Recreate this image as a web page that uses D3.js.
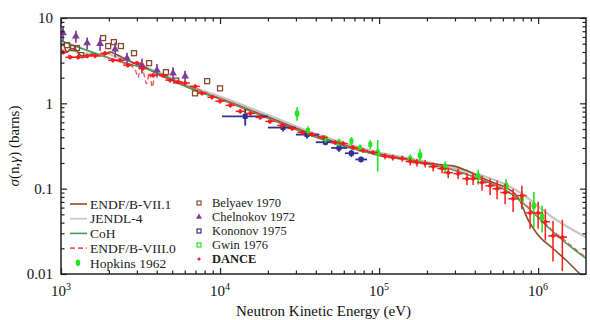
<!DOCTYPE html>
<html>
<head>
<meta charset="utf-8">
<script src="https://cdn.jsdelivr.net/npm/d3@7"></script>
<style>
body { margin: 0; background: #fff; }
svg { display: block; }
</style>
</head>
<body>
<div id="chart"></div>
<script>
// evaluations (energy in eV, cross section in barns)
const endf71E = [1000, 1030, 1090, 1170, 1250, 1320, 1400, 1460, 1570, 1680, 1760, 1900, 2030, 2150, 2250, 2400, 2530, 2840, 3200, 4000, 5000, 7000, 1e4, 2e4, 4e4, 7e4, 1e5, 1.5e5, 2e5, 2.5e5, 2.86e5, 3.5e5, 4.3e5, 5.2e5, 6.3e5, 7.1e5, 7.7e5, 8.5e5, 9.9e5, 1.24e6, 1.5e6, 1.84e6, 2e6]
const endf71S = [4.6, 4.9, 4.0, 4.4, 4.2, 3.67, 3.55, 3.47, 3.8, 3.65, 3.6, 3.75, 4.0, 3.85, 3.7, 3.5, 3.3, 3.0, 2.75, 2.25, 1.85, 1.42, 1.14, 0.69, 0.42, 0.30, 0.255, 0.222, 0.199, 0.189, 0.186, 0.165, 0.137, 0.118, 0.103, 0.088, 0.072, 0.046, 0.0293, 0.0199, 0.0145, 0.01, 0.0088]

const jendlE = [1000, 1080, 1150, 1250, 1350, 1450, 1600, 1750, 1900, 2100, 2300, 2600, 3000, 4000, 5000, 7000, 1e4, 2e4, 4e4, 7e4, 1e5, 1.5e5, 2e5, 3e5, 4e5, 5e5, 6e5, 7e5, 8e5, 1e6, 1.3e6, 1.6e6, 2e6]
const jendlS = [4.4, 4.0, 4.3, 4.0, 3.6, 3.85, 3.7, 3.75, 3.9, 3.65, 3.45, 3.2, 2.9, 2.35, 1.95, 1.5, 1.2, 0.73, 0.44, 0.315, 0.265, 0.23, 0.205, 0.172, 0.15, 0.132, 0.116, 0.1, 0.086, 0.062, 0.043, 0.034, 0.027]

const cohE = [1000, 2000, 4000, 7000, 1e4, 2e4, 4e4, 7e4, 1e5, 1.5e5, 2e5, 2.5e5, 3e5, 4e5, 5e5, 6e5, 7e5, 8e5, 1e6, 1.2e6, 1.5e6, 2e6]
const cohS = [5.4, 3.4, 2.3, 1.42, 1.12, 0.67, 0.40, 0.29, 0.245, 0.218, 0.195, 0.178, 0.163, 0.136, 0.116, 0.1, 0.083, 0.068, 0.046, 0.033, 0.023, 0.0152]

const endf80E = [1000, 1100, 1200, 1350, 1500, 1650, 1800, 2000, 2200, 2500, 2800, 2950, 3050, 3150, 3300, 3450, 3600, 3750, 3900, 4200, 4600, 5000, 6000, 7000, 1e4, 2e4, 4e4, 7e4, 1e5, 1.5e5, 2e5, 2.5e5, 3e5, 4e5, 5e5, 6e5, 7e5, 8e5, 1e6, 1.2e6, 1.5e6, 2e6]
const endf80S = [4.1, 3.7, 3.5, 3.5, 3.7, 3.6, 3.7, 3.4, 3.2, 2.95, 2.7, 2.4, 2.0, 2.6, 2.3, 1.7, 2.3, 1.55, 2.2, 2.1, 1.95, 1.85, 1.65, 1.5, 1.13, 0.67, 0.405, 0.295, 0.25, 0.222, 0.197, 0.18, 0.165, 0.138, 0.118, 0.101, 0.084, 0.069, 0.047, 0.034, 0.024, 0.0156]

// measurements: energy, cross section, relative uncertainty
const danceE = [1030, 1140, 1280, 1460, 1640, 1890, 2120, 2350, 2630, 3000, 3280, 3790, 4390, 4850, 5440, 6030, 6970, 7700, 8900, 1e4, 1.16e4, 1.34e4, 1.55e4, 1.79e4, 2.06e4, 2.45e4, 2.84e4, 3.28e4, 3.79e4, 4.45e4, 5.29e4, 5.94e4, 6.86e4, 7.93e4, 9.17e4, 1.09e5, 1.22e5, 1.40e5, 1.57e5, 1.73e5, 1.95e5, 2.19e5, 2.49e5, 2.72e5, 3.14e5, 3.57e5, 3.90e5, 4.44e5, 4.99e5, 5.52e5, 6.2e5, 6.96e5, 7.9e5, 8.9e5, 1.0e6, 1.11e6, 1.24e6, 1.42e6]
const danceS = [3.98, 3.47, 3.47, 3.6, 3.6, 3.85, 3.2, 3.2, 2.8, 2.96, 2.58, 2.13, 2.13, 1.87, 1.78, 1.73, 1.58, 1.31, 1.18, 1.06, 0.947, 0.805, 0.762, 0.684, 0.614, 0.551, 0.508, 0.456, 0.432, 0.398, 0.348, 0.338, 0.304, 0.28, 0.265, 0.24, 0.232, 0.225, 0.208, 0.202, 0.197, 0.181, 0.172, 0.154, 0.150, 0.131, 0.131, 0.118, 0.108, 0.100, 0.090, 0.076, 0.083, 0.052, 0.052, 0.041, 0.028, 0.027]
const danceErr = [0.06, 0.06, 0.06, 0.06, 0.06, 0.06, 0.06, 0.06, 0.06, 0.06, 0.06, 0.06, 0.06, 0.06, 0.06, 0.06, 0.06, 0.06, 0.06, 0.06, 0.06, 0.06, 0.06, 0.06, 0.06, 0.06, 0.06, 0.06, 0.06, 0.06, 0.06, 0.06, 0.06, 0.06, 0.06, 0.08, 0.08, 0.08, 0.1, 0.1, 0.1, 0.12, 0.12, 0.14, 0.14, 0.16, 0.16, 0.2, 0.22, 0.25, 0.27, 0.3, 0.3, 0.35, 0.35, 0.4, 0.5, 0.6]

const chelnokovE = [1030, 1240, 1460, 1760, 2190, 2600, 3230, 4010, 5060, 6030]
const chelnokovS = [6.67, 6.1, 5.1, 5.0, 4.3, 3.38, 2.8, 2.45, 2.25, 2.08]
const chelnokovErr = [0.2, 0.16, 0.16, 0.18, 0.2, 0.16, 0.2, 0.18, 0.18, 0.16]

const belyaevE = [1090, 1190, 1260, 1340, 1840, 1980, 2150, 2380, 2880, 3580, 4570, 5300, 6960, 8300, 1e4]
const belyaevS = [4.81, 4.44, 4.44, 3.67, 5.82, 4.69, 5.22, 4.69, 3.87, 2.96, 2.32, 1.85, 1.31, 1.82, 1.5]

const kononovE = [1.44e4, 2.49e4, 3.52e4, 4.6e4, 5.6e4, 6.7e4, 7.7e4]
const kononovLo = [1.03e4, 2.0e4, 3.0e4, 4.0e4, 5.0e4, 6.1e4, 7.1e4]
const kononovHi = [2.0e4, 3.0e4, 4.2e4, 5.3e4, 6.3e4, 7.4e4, 8.4e4]
const kononovS = [0.703, 0.52, 0.43, 0.35, 0.30, 0.26, 0.22]
const kononovErr = [0.22, 0.1, 0.1, 0.08, 0.1, 0.1, 0.08]

const hopkinsE = [3.05e4, 9.8e4, 1.81e5, 2.6e5, 4.2e5, 6.3e5, 9.4e5, 1.06e6]
const hopkinsS = [0.76, 0.265, 0.245, 0.18, 0.139, 0.108, 0.063, 0.047]
const hopkinsErr = [0.18, 0.4, 0.2, 0.16, 0.2, 0.2, 0.45, 0.35]

const gwinE = [3.57e4, 4.6e4, 5.6e4, 6.7e4, 7.6e4, 8.8e4, 1.57e5, 7.9e5]
const gwinS = [0.48, 0.385, 0.35, 0.36, 0.30, 0.33, 0.225, 0.076]
const gwinErr = [0.12, 0.1, 0.1, 0.12, 0.1, 0.12, 0.12, 0.25]

const xMajor = [1e3, 1e4, 1e5, 1e6]
const xLabels = ['3', '4', '5', '6']
const yMajor = [0.01, 0.1, 1, 10]
const yLabels = ['0.01', '0.1', '1', '10']

const leftLegend = ['ENDF/B-VII.1', 'JENDL-4', 'CoH', 'ENDF/B-VIII.0', 'Hopkins 1962']
const rightLegend = ['Belyaev 1970', 'Chelnokov 1972', 'Kononov 1975', 'Gwin 1976', 'DANCE']

const width = 590
const height = 320
const padding = { top: 18, right: 4, bottom: 46, left: 61 }
const serif = "'Liberation Serif', 'DejaVu Serif', 'Liberation Sans', serif"

const svg = d3.select('#chart').append('svg')
    .attr('width', width)
    .attr('height', height)
    .attr('font-family', serif)

const x = d3.scaleLog()
    .domain([1e3, 2e6])
    .range([padding.left, width - padding.right])
const y = d3.scaleLog()
    .domain([0.01, 10])
    .range([height - padding.bottom, padding.top])

const x0 = x.range()[0], x1 = x.range()[1]
const y0 = y.range()[1], y1 = y.range()[0]

svg.append('clipPath').attr('id', 'plot')
    .append('rect').attr('x', x0).attr('y', y0).attr('width', x1 - x0).attr('height', y1 - y0)

const minors = (lo, hi) => {
    const out = []
    for (let p = Math.floor(Math.log10(lo)); p <= Math.ceil(Math.log10(hi)); p++) {
        for (let k = 2; k <= 9; k++) {
            const v = k * Math.pow(10, p)
            if (v > lo && v < hi) out.push(v)
        }
    }
    return out
}
const xMinor = minors(1e3, 2e6)
const yMinor = minors(0.01, 10)

// curves
const plot = svg.append('g').attr('clip-path', 'url(#plot)')
const line = d3.line().x(d => x(d[0])).y(d => y(d[1])).curve(d3.curveMonotoneX)

const curves = [
    { e: jendlE, s: jendlS, color: '#c4c4c4', w: 2.2, dash: null },
    { e: endf71E, s: endf71S, color: '#8a4b2c', w: 1.6, dash: null },
    { e: cohE, s: cohS, color: '#3aa35a', w: 1.6, dash: null },
    { e: endf80E, s: endf80S, color: '#f25a5a', w: 1.4, dash: '5,3' }
]
curves.forEach(c => {
    plot.append('path')
        .datum(d3.zip(c.e, c.s))
        .attr('d', line)
        .attr('fill', 'none')
        .attr('stroke', c.color)
        .attr('stroke-width', c.w)
        .attr('stroke-dasharray', c.dash)
})

function errorBars (g, e, s, err, color, w, eLo, eHi) {
    const pts = d3.zip(e, s, err)
    g.selectAll(null).data(pts).enter().append('line')
        .attr('x1', d => x(d[0])).attr('x2', d => x(d[0]))
        .attr('y1', d => y(d[1] * (1 + d[2]))).attr('y2', d => y(d[1] * (1 - d[2])))
        .attr('stroke', color).attr('stroke-width', w)
    if (eLo) {
        g.selectAll(null).data(d3.zip(eLo, eHi, s)).enter().append('line')
            .attr('x1', d => x(d[0])).attr('x2', d => x(d[1]))
            .attr('y1', d => y(d[2])).attr('y2', d => y(d[2]))
            .attr('stroke', color).attr('stroke-width', w)
    }
}

// Belyaev: open squares
const bel = plot.append('g')
bel.selectAll('rect').data(d3.zip(belyaevE, belyaevS)).enter().append('rect')
    .attr('x', d => x(d[0]) - 2.5).attr('y', d => y(d[1]) - 2.5)
    .attr('width', 5).attr('height', 5)
    .attr('fill', 'none').attr('stroke', '#8a4b2c').attr('stroke-width', 1.3)

// Chelnokov: triangles
const che = plot.append('g')
errorBars(che, chelnokovE, chelnokovS, chelnokovErr, '#7a3d9a', 1.6)
che.selectAll('path').data(d3.zip(chelnokovE, chelnokovS)).enter().append('path')
    .attr('d', d3.symbol(d3.symbolTriangle, 26))
    .attr('transform', d => `translate(${x(d[0])},${y(d[1])})`)
    .attr('fill', '#7a3d9a')

// Kononov
const kon = plot.append('g')
errorBars(kon, kononovE, kononovS, kononovErr, '#2e3192', 1.8, kononovLo, kononovHi)
kon.selectAll('rect').data(d3.zip(kononovE, kononovS)).enter().append('rect')
    .attr('x', d => x(d[0]) - 2.5).attr('y', d => y(d[1]) - 2.5)
    .attr('width', 5).attr('height', 5)
    .attr('fill', '#2e3192')

// Gwin
const gw = plot.append('g')
errorBars(gw, gwinE, gwinS, gwinErr, '#22e622', 1.6)
gw.selectAll('rect').data(d3.zip(gwinE, gwinS)).enter().append('rect')
    .attr('x', d => x(d[0]) - 2).attr('y', d => y(d[1]) - 2.5)
    .attr('width', 4).attr('height', 5)
    .attr('fill', '#22e622')

// Hopkins
const hop = plot.append('g')
errorBars(hop, hopkinsE, hopkinsS, hopkinsErr, '#22e622', 1.6)
hop.selectAll('ellipse').data(d3.zip(hopkinsE, hopkinsS)).enter().append('ellipse')
    .attr('cx', d => x(d[0])).attr('cy', d => y(d[1]))
    .attr('rx', 2.4).attr('ry', 3.6)
    .attr('fill', '#22e622')

// DANCE
const dan = plot.append('g')
const danceLo = danceE.map(e => e / 1.07)
const danceHi = danceE.map(e => e * 1.07)
errorBars(dan, danceE, danceS, danceErr, '#ff1a1a', 1.5, danceLo, danceHi)
dan.selectAll('circle').data(d3.zip(danceE, danceS)).enter().append('circle')
    .attr('cx', d => x(d[0])).attr('cy', d => y(d[1]))
    .attr('r', 2).attr('fill', '#ff1a1a')

// axes with inward ticks on all four sides
const axisColor = '#222'
function drawAxis (axis, tx, ty) {
    const g = svg.append('g').attr('transform', `translate(${tx},${ty})`).call(axis)
    g.select('.domain').remove()
    g.selectAll('line').attr('stroke', axisColor).attr('stroke-width', 1.2)
    return g
}
drawAxis(d3.axisBottom(x).tickValues(xMajor).tickSize(-6).tickFormat(''), 0, y1)
drawAxis(d3.axisBottom(x).tickValues(xMinor).tickSize(-3.5).tickFormat(''), 0, y1)
drawAxis(d3.axisTop(x).tickValues(xMajor).tickSize(-6).tickFormat(''), 0, y0)
drawAxis(d3.axisTop(x).tickValues(xMinor).tickSize(-3.5).tickFormat(''), 0, y0)
drawAxis(d3.axisLeft(y).tickValues(yMajor).tickSize(-6).tickFormat(''), x0, 0)
drawAxis(d3.axisLeft(y).tickValues(yMinor).tickSize(-3.5).tickFormat(''), x0, 0)
drawAxis(d3.axisRight(y).tickValues(yMajor).tickSize(-6).tickFormat(''), x1, 0)
drawAxis(d3.axisRight(y).tickValues(yMinor).tickSize(-3.5).tickFormat(''), x1, 0)

svg.append('rect')
    .attr('x', x0).attr('y', y0).attr('width', x1 - x0).attr('height', y1 - y0)
    .attr('fill', 'none').attr('stroke', axisColor).attr('stroke-width', 1.5)

// tick labels
xMajor.forEach((v, i) => {
    const t = svg.append('text')
        .attr('x', x(v)).attr('y', 296)
        .attr('text-anchor', 'middle')
        .attr('font-size', 15).attr('fill', '#111')
    t.append('tspan').text('10')
    t.append('tspan').attr('dy', -6).attr('font-size', 10).text(xLabels[i])
})
yMajor.forEach((v, i) => {
    svg.append('text')
        .attr('x', x0 - 8).attr('y', y(v))
        .attr('dy', '0.35em')
        .attr('text-anchor', 'end')
        .attr('font-size', 15).attr('fill', '#111')
        .text(yLabels[i])
})

// axis titles
svg.append('text')
    .attr('x', (x0 + x1) / 2).attr('y', 316)
    .attr('text-anchor', 'middle')
    .attr('font-size', 15).attr('fill', '#111')
    .text('Neutron Kinetic Energy (eV)')
const yt = svg.append('text')
    .attr('transform', `translate(19,${(y0 + y1) / 2}) rotate(-90)`)
    .attr('text-anchor', 'middle')
    .attr('font-size', 15).attr('fill', '#111')
yt.append('tspan').attr('font-style', 'italic').text('σ')
yt.append('tspan').text('(n,')
yt.append('tspan').attr('font-style', 'italic').text('γ')
yt.append('tspan').text(') (barns)')

// legend
const legL = svg.append('g').attr('font-size', 13.5).attr('fill', '#222')
const leftStyle = [
    { color: '#8a4b2c', dash: null },
    { color: '#c4c4c4', dash: null },
    { color: '#3aa35a', dash: null },
    { color: '#f25a5a', dash: '5,3' }
]
leftLegend.forEach((name, i) => {
    const cy = 204 + i * 14.7
    if (i < 4) {
        legL.append('line')
            .attr('x1', 70).attr('x2', 87).attr('y1', cy).attr('y2', cy)
            .attr('stroke', leftStyle[i].color).attr('stroke-width', 1.6)
            .attr('stroke-dasharray', leftStyle[i].dash)
    } else {
        legL.append('ellipse').attr('cx', 78).attr('cy', cy)
            .attr('rx', 2.2).attr('ry', 3.4).attr('fill', '#22e622')
    }
    legL.append('text').attr('x', 90).attr('y', cy).attr('dy', '0.35em').text(name)
})

const legR = svg.append('g').attr('font-size', 12.5).attr('fill', '#222')
rightLegend.forEach((name, i) => {
    const cy = 203 + i * 14
    const cx = 199
    if (i === 0) {
        legR.append('rect').attr('x', cx - 2).attr('y', cy - 2).attr('width', 4).attr('height', 4)
            .attr('fill', 'none').attr('stroke', '#8a4b2c').attr('stroke-width', 1.2)
    } else if (i === 1) {
        legR.append('path').attr('d', d3.symbol(d3.symbolTriangle, 16))
            .attr('transform', `translate(${cx},${cy})`).attr('fill', '#7a3d9a')
    } else if (i === 2) {
        legR.append('rect').attr('x', cx - 2).attr('y', cy - 2).attr('width', 4).attr('height', 4)
            .attr('fill', 'none').attr('stroke', '#2e3192').attr('stroke-width', 1.2)
    } else if (i === 3) {
        legR.append('rect').attr('x', cx - 2).attr('y', cy - 2).attr('width', 4).attr('height', 4)
            .attr('fill', 'none').attr('stroke', '#22e622').attr('stroke-width', 1.2)
    } else {
        legR.append('circle').attr('cx', cx).attr('cy', cy).attr('r', 1.6).attr('fill', '#ff1a1a')
    }
    legR.append('text').attr('x', 212).attr('y', cy).attr('dy', '0.35em')
        .attr('font-weight', i === 4 ? 'bold' : null)
        .text(name)
})
</script>
</body>
</html>
